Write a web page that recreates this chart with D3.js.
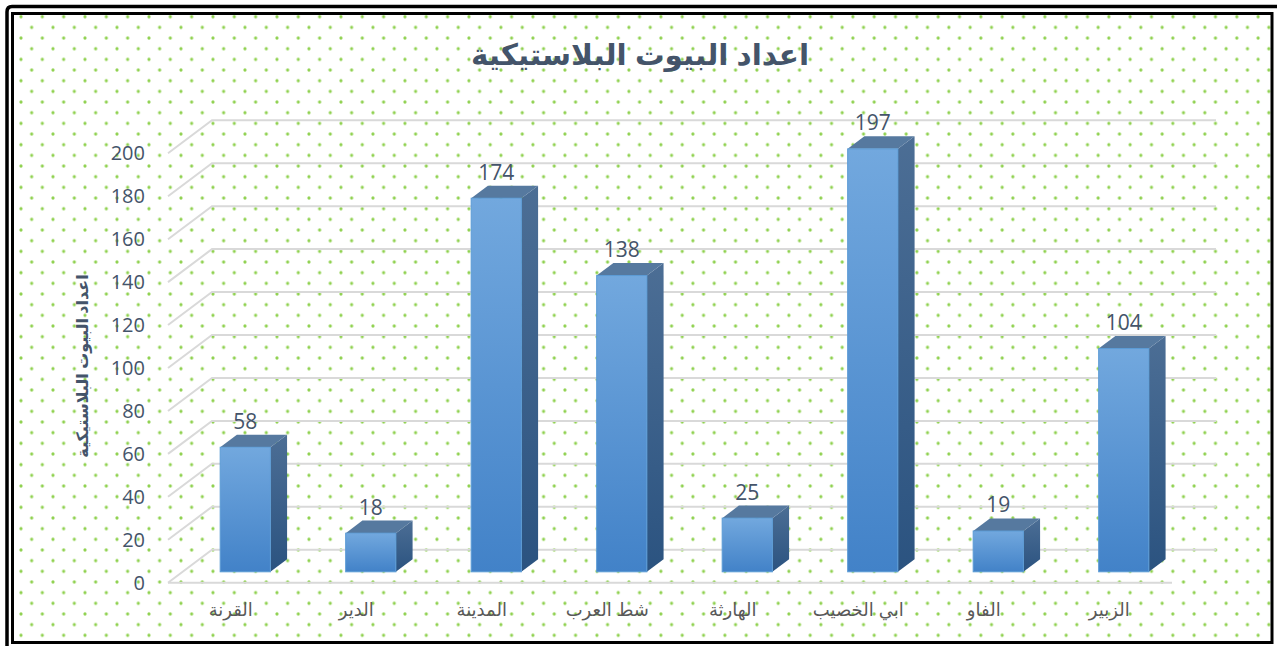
<!DOCTYPE html>
<html>
<head>
<meta charset="utf-8">
<script src="https://cdn.jsdelivr.net/npm/d3@7"></script>
<style>
  body { margin: 0; background: #fff; }
  svg { display: block; }
</style>
</head>
<body>
<svg width="1277" height="646"></svg>
<script>
// ---- Dados
const categories = ['القرنة', 'الدير', 'المدينة', 'شط العرب', 'الهارثة', 'ابي الخصيب', 'الفاو', 'الزبير'];
const values = [58, 18, 174, 138, 25, 197, 19, 104];
const yTicks = [0, 20, 40, 60, 80, 100, 120, 140, 160, 180, 200];
const chartTitle = 'اعداد البيوت البلاستيكية';
const yTitle = 'اعداد البيوت البلاستيكية';

const svg = d3.select('svg');
const W = 1277, H = 646;

// profundidade 3D (plano da frente -> plano de tras)
const DX = 44, DY = 33;
const zFront = 0.33, zDepth = 0.38;

// ---- Fundo com pontos
const defs = svg.append('defs');
const pat = defs.append('pattern')
    .attr('id', 'dots')
    .attr('patternUnits', 'userSpaceOnUse')
    .attr('x', -0.33).attr('y', -4.6)
    .attr('width', 21.33).attr('height', 21.33);
[[0, 0], [21.33, 0], [0, 21.33], [21.33, 21.33], [10.67, 10.67]].forEach(p => {
    pat.append('circle').attr('cx', p[0]).attr('cy', p[1]).attr('r', 1.6).attr('fill', '#8fd14f');
});

const gFront = defs.append('linearGradient').attr('id', 'gFront').attr('x1', 0).attr('y1', 0).attr('x2', 0).attr('y2', 1);
gFront.append('stop').attr('offset', '0%').attr('stop-color', '#72a8de');
gFront.append('stop').attr('offset', '100%').attr('stop-color', '#4282c8');
const gSide = defs.append('linearGradient').attr('id', 'gSide').attr('x1', 0).attr('y1', 0).attr('x2', 0).attr('y2', 1);
gSide.append('stop').attr('offset', '0%').attr('stop-color', '#4c6e95');
gSide.append('stop').attr('offset', '100%').attr('stop-color', '#2b5380');

svg.append('rect').attr('x', 0).attr('y', 0).attr('width', W).attr('height', H).attr('fill', '#fff');
svg.append('rect').attr('x', 12).attr('y', 13).attr('width', 1260).attr('height', 630).attr('fill', 'url(#dots)');

// ---- Escalas
const x = d3.scaleBand().domain(categories).range([168, 1172]).paddingInner(0.6).paddingOuter(0.3);
const y = d3.scaleLinear().domain([0, 200]).range([582.7, 153.3]);

// ---- Grade
const grid = svg.append('g').attr('fill', 'none').attr('stroke', '#d9d9d9').attr('stroke-width', 2);
grid.selectAll('path.grid')
    .data(yTicks)
    .join('path')
    .attr('class', 'grid')
    .attr('d', d => `M168,${y(d)}L${168 + DX},${y(d) - DY}L${1172 + DX},${y(d) - DY}`);
grid.append('path').attr('d', `M168,${y(0)}L1172,${y(0)}`);

// ---- Eixo Y
const yAxis = d3.axisLeft(y).tickValues(yTicks).tickSize(0).tickPadding(23);
svg.append('g')
    .attr('transform', 'translate(168,0)')
    .call(yAxis)
    .call(g => g.select('.domain').remove())
    .selectAll('text')
    .attr('font-family', '"Open Sans", sans-serif')
    .attr('font-size', 20)
    .attr('fill', '#44546a');

// ---- Barras
const bw = x.bandwidth();
const bars = svg.append('g').selectAll('g.bar')
    .data(categories.map((c, i) => ({ c, v: values[i] })))
    .join('g')
    .attr('class', 'bar');

const ox = zFront * DX, oy = zFront * DY;
const ddx = zDepth * DX, ddy = zDepth * DY;

bars.each(function (d) {
    const g = d3.select(this);
    const x0 = x(d.c) + ox, x1 = x0 + bw;
    const yb = y(0) - oy, yt = y(d.v) - oy;
    g.append('path')
        .attr('d', `M${x1},${yb}L${x1},${yt}L${x1 + ddx},${yt - ddy}L${x1 + ddx},${yb - ddy}Z`)
        .attr('fill', 'url(#gSide)');
    g.append('path')
        .attr('d', `M${x0},${yt}L${x0 + ddx},${yt - ddy}L${x1 + ddx},${yt - ddy}L${x1},${yt}Z`)
        .attr('fill', '#56799f');
    g.append('rect')
        .attr('x', x0).attr('y', yt).attr('width', bw).attr('height', yb - yt)
        .attr('fill', 'url(#gFront)')
        .attr('stroke', '#5b9bd5').attr('stroke-width', 1);
    g.append('text')
        .attr('x', x0 + bw / 2)
        .attr('y', yt - ddy - 6)
        .attr('text-anchor', 'middle')
        .attr('font-family', '"Open Sans", sans-serif')
        .attr('font-size', 21)
        .attr('fill', '#44546a')
        .text(d.v);
});

// ---- Rotulos X
svg.append('g').selectAll('text')
    .data(categories)
    .join('text')
    .attr('x', d => x(d) + bw / 2)
    .attr('y', 616)
    .attr('text-anchor', 'middle')
    .attr('font-family', 'Arial, "DejaVu Sans", sans-serif')
    .attr('font-size', 18)
    .attr('fill', '#595959')
    .text(d => d);

// ---- Titulos
svg.append('text')
    .attr('x', 640).attr('y', 65)
    .attr('text-anchor', 'middle')
    .attr('font-family', 'Arial, "DejaVu Sans", sans-serif')
    .attr('font-weight', 'bold')
    .attr('font-size', 29.5)
    .attr('fill', '#44546a')
    .text(chartTitle);

svg.append('text')
    .attr('transform', 'translate(88,366) rotate(-90)')
    .attr('text-anchor', 'middle')
    .attr('font-family', 'Arial, "DejaVu Sans", sans-serif')
    .attr('font-weight', 'bold')
    .attr('font-size', 16)
    .attr('fill', '#44546a')
    .text(yTitle);

// ---- Moldura
svg.append('path')
    .attr('d', 'M7,646L7,12Q7,6.5 12,6.5L1277,6.5')
    .attr('fill', 'none').attr('stroke', '#000').attr('stroke-width', 3.5);
svg.append('rect')
    .attr('x', 12.5).attr('y', 13.5).attr('width', 1259.5).attr('height', 629)
    .attr('fill', 'none').attr('stroke', '#000').attr('stroke-width', 3);
</script>
</body>
</html>
